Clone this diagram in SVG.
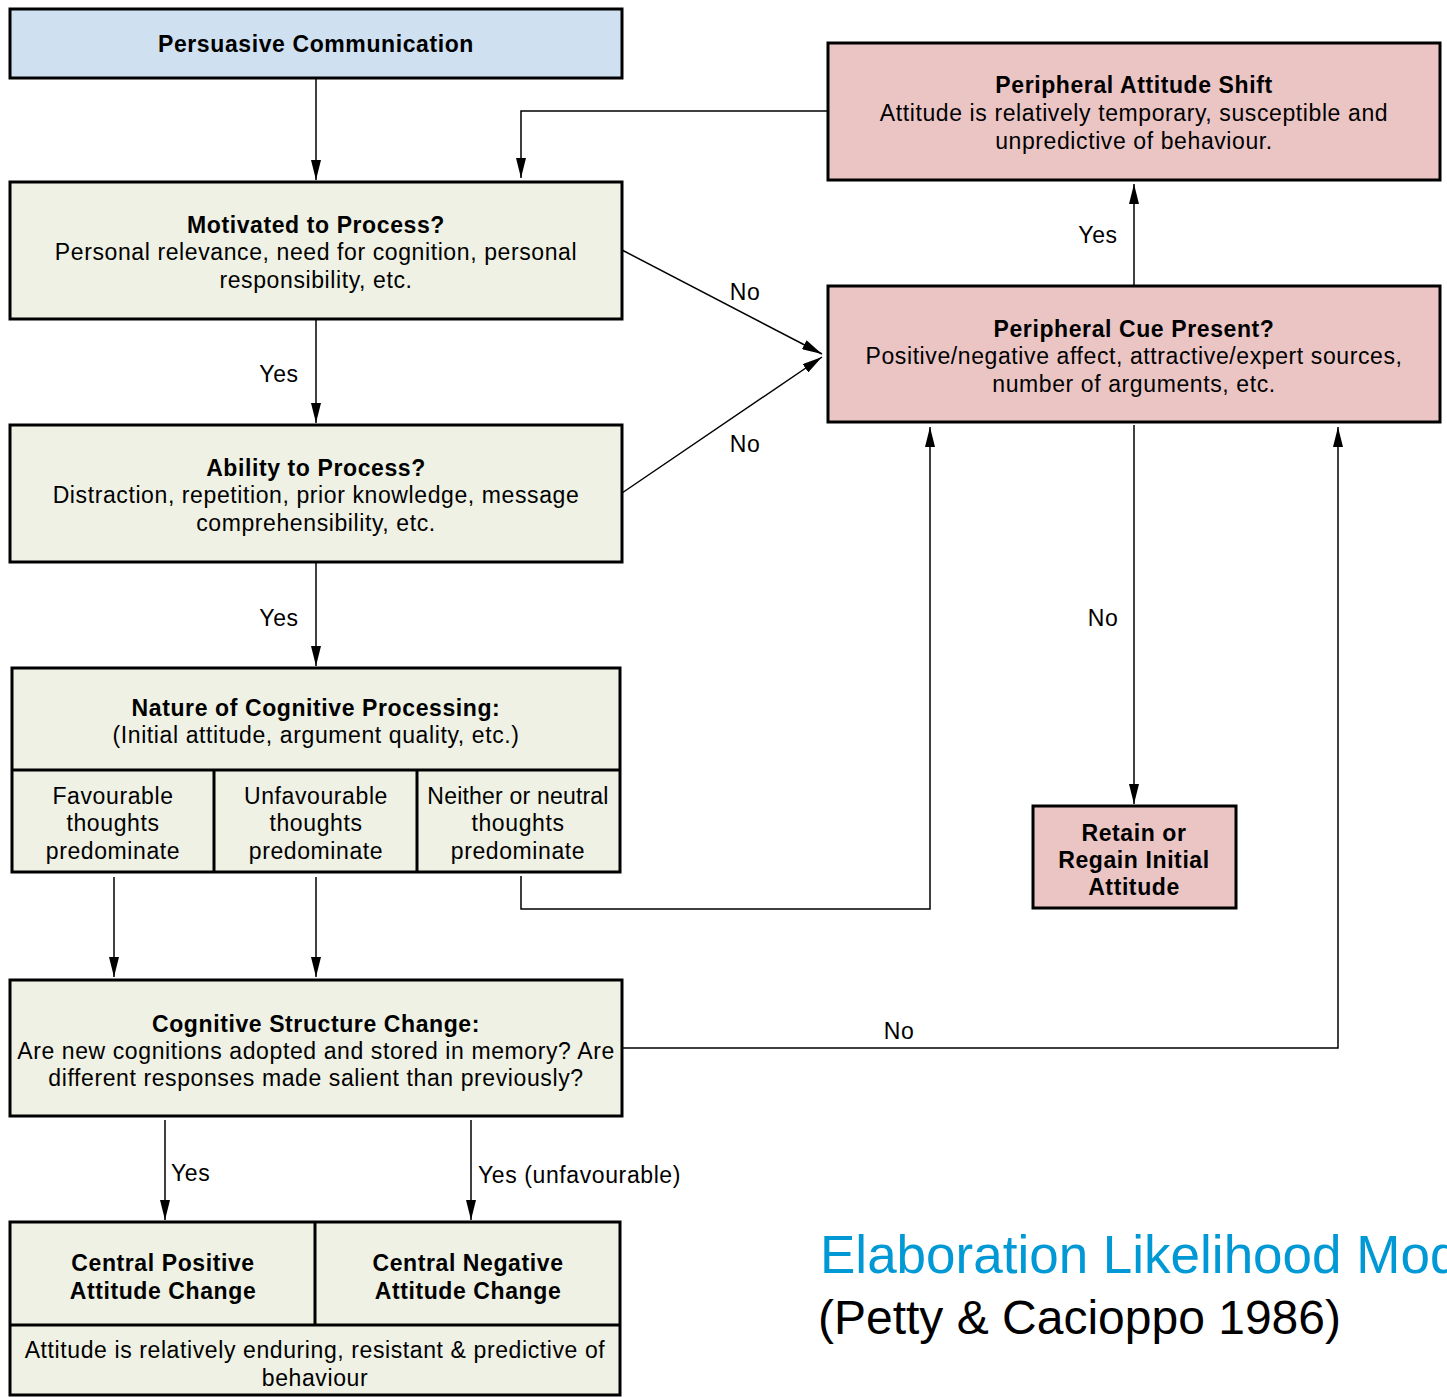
<svg xmlns="http://www.w3.org/2000/svg" width="1447" height="1397" viewBox="0 0 1447 1397">
<style>
.box{stroke:#000;stroke-width:3}
.g{fill:#eef1e3}
.b{fill:#cfe0f1}
.p{fill:#eac5c4}
.ln{stroke:#000;stroke-width:1.5;fill:none}
text{font-family:"Liberation Sans",Arial,sans-serif;font-size:23px;letter-spacing:0.6px;fill:#000;text-anchor:middle}
.h{font-weight:bold}
.lab{text-anchor:start}
.t1{font-size:53px;fill:#0099d5;letter-spacing:0}
.t2{font-size:48px;letter-spacing:0}
</style>
<defs>
<marker id="ah" viewBox="0 0 20 10" refX="20" refY="5" markerWidth="20" markerHeight="10" markerUnits="userSpaceOnUse" orient="auto">
<path d="M0,0 L20,5 L0,10 Z" fill="#000"/>
</marker>
</defs>
<rect width="1447" height="1397" fill="#fff"/>
<g id="connectors">
<path class="ln" d="M316,78 V180" marker-end="url(#ah)"/>
<path class="ln" d="M828,111 H521 V178" marker-end="url(#ah)"/>
<path class="ln" d="M622,250 L822,354" marker-end="url(#ah)"/>
<path class="ln" d="M622,493 L822,357" marker-end="url(#ah)"/>
<path class="ln" d="M316,319 V423" marker-end="url(#ah)"/>
<path class="ln" d="M316,562 V666" marker-end="url(#ah)"/>
<path class="ln" d="M1134,286 V184" marker-end="url(#ah)"/>
<path class="ln" d="M1134,425 V804" marker-end="url(#ah)"/>
<path class="ln" d="M521,876 V909 H930 V427" marker-end="url(#ah)"/>
<path class="ln" d="M114,877 V977" marker-end="url(#ah)"/>
<path class="ln" d="M316,877 V977" marker-end="url(#ah)"/>
<path class="ln" d="M622,1048 H1338 V427" marker-end="url(#ah)"/>
<path class="ln" d="M165,1120 V1220" marker-end="url(#ah)"/>
<path class="ln" d="M471,1120 V1220" marker-end="url(#ah)"/>
<text x="745" y="300">No</text>
<text x="745" y="452">No</text>
<text x="279" y="382">Yes</text>
<text x="279" y="626">Yes</text>
<text x="1098" y="243">Yes</text>
<text x="1103" y="626">No</text>
<text x="899" y="1039">No</text>
<text class="lab" x="171" y="1181">Yes</text>
<text class="lab" x="478" y="1183">Yes (unfavourable)</text>
</g>
<g id="persuasive">
<rect class="box b" x="10" y="9" width="612" height="69"/>
<text class="h" x="316" y="52">Persuasive Communication</text>
</g>
<g id="motivated">
<rect class="box g" x="10" y="182" width="612" height="137"/>
<text class="h" x="316" y="233">Motivated to Process?</text>
<text x="316" y="260">Personal relevance,  need for cognition, personal</text>
<text x="316" y="288">responsibility, etc.</text>
</g>
<g id="ability">
<rect class="box g" x="10" y="425" width="612" height="137"/>
<text class="h" x="316" y="476">Ability to Process?</text>
<text x="316" y="503">Distraction, repetition, prior knowledge, message</text>
<text x="316" y="531">comprehensibility, etc.</text>
</g>
<g id="nature">
<rect class="box g" x="12" y="668" width="608" height="204"/>
<path class="box" d="M12,770 H620 M214,770 V872 M417,770 V872"/>
<text class="h" x="316" y="716">Nature of Cognitive Processing:</text>
<text x="316" y="743">(Initial attitude, argument quality, etc.)</text>
<text x="113" y="804">Favourable</text>
<text x="113" y="831">thoughts</text>
<text x="113" y="859">predominate</text>
<text x="316" y="804">Unfavourable</text>
<text x="316" y="831">thoughts</text>
<text x="316" y="859">predominate</text>
<text x="518" y="804" style="letter-spacing:0.2px">Neither or neutral</text>
<text x="518" y="831">thoughts</text>
<text x="518" y="859">predominate</text>
</g>
<g id="structure">
<rect class="box g" x="10" y="980" width="612" height="136"/>
<text class="h" x="316" y="1032">Cognitive Structure Change:</text>
<text x="316" y="1059">Are new cognitions adopted and stored in memory? Are</text>
<text x="316" y="1086">different responses made salient than previously?</text>
</g>
<g id="central">
<rect class="box g" x="10" y="1222" width="610" height="173"/>
<path class="box" d="M10,1325 H620 M315,1222 V1325"/>
<text class="h" x="163" y="1271">Central Positive</text>
<text class="h" x="163" y="1299">Attitude Change</text>
<text class="h" x="468" y="1271">Central Negative</text>
<text class="h" x="468" y="1299">Attitude Change</text>
<text x="315" y="1358">Attitude is relatively enduring, resistant &amp; predictive of</text>
<text x="315" y="1386">behaviour</text>
</g>
<g id="shift">
<rect class="box p" x="828" y="43" width="612" height="137"/>
<text class="h" x="1134" y="93">Peripheral Attitude Shift</text>
<text x="1134" y="121">Attitude is relatively temporary, susceptible and</text>
<text x="1134" y="149">unpredictive of behaviour.</text>
</g>
<g id="cue">
<rect class="box p" x="828" y="286" width="612" height="136"/>
<text class="h" x="1134" y="337">Peripheral Cue Present?</text>
<text x="1134" y="364">Positive/negative affect, attractive/expert sources,</text>
<text x="1134" y="392">number of arguments, etc.</text>
</g>
<g id="retain">
<rect class="box p" x="1033" y="806" width="203" height="102"/>
<text class="h" x="1134" y="841">Retain or</text>
<text class="h" x="1134" y="868">Regain Initial</text>
<text class="h" x="1134" y="895">Attitude</text>
</g>
<g id="title">
<text class="lab t1" x="820" y="1273">Elaboration Likelihood Model</text>
<text class="lab t2" x="818" y="1334">(Petty &amp; Cacioppo 1986)</text>
</g>
</svg>
